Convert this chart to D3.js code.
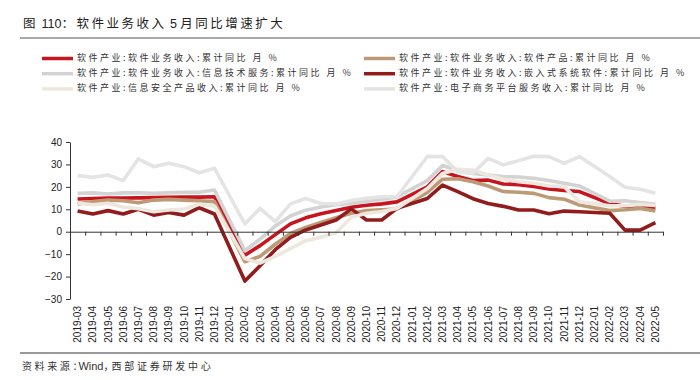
<!DOCTYPE html>
<html>
<head>
<meta charset="utf-8">
<script src="https://cdn.jsdelivr.net/npm/d3@7"></script>
<style>
  body { margin: 0; background: #fff; }
  svg { display: block; }
</style>
</head>
<body>
<div id="chart"></div>
<script>
// 月份（2020-01、2021-01、2022-01 无数据）
const months = [
  "2019-03","2019-04","2019-05","2019-06","2019-07","2019-08","2019-09","2019-10","2019-11","2019-12",
  "2020-01","2020-02","2020-03","2020-04","2020-05","2020-06","2020-07","2020-08","2020-09","2020-10","2020-11","2020-12",
  "2021-01","2021-02","2021-03","2021-04","2021-05","2021-06","2021-07","2021-08","2021-09","2021-10","2021-11","2021-12",
  "2022-01","2022-02","2022-03","2022-04","2022-05"
];

const softwareRevenue = [
  14.6,14.8,15.0,15.0,15.1,15.2,15.3,15.4,15.4,15.6,
  null,-10.5,-6.2,-1.3,3.5,6.2,8.0,9.5,10.9,11.8,12.4,13.3,
  null,20.0,26.8,24.6,22.8,23.0,21.3,21.0,20.2,19.1,18.4,17.9,
  null,12.6,11.3,11.0,10.5
];
const softwareProducts = [
  12.4,13.4,14.1,13.8,12.9,14.1,14.4,14.1,13.8,13.4,
  null,-13.4,-11.0,-5.6,-0.8,1.9,4.1,6.2,8.2,9.4,9.8,10.1,
  null,17.5,23.4,23.6,22.3,20.4,17.9,17.6,17.1,15.2,14.5,11.9,
  null,9.4,9.8,10.4,9.3
];
const itServices = [
  17.1,17.3,16.8,17.3,17.4,17.1,17.3,17.6,17.6,18.6,
  null,-8.5,-3.3,2.5,7.0,9.6,11.0,12.0,12.7,13.5,14.5,15.5,
  null,22.8,29.5,27.3,26.0,25.3,24.6,24.4,23.8,22.8,21.6,20.4,
  null,13.6,13.8,13.0,12.2
];
const embeddedSoftware = [
  9.2,7.9,9.4,7.9,10.0,7.4,8.6,7.4,10.7,7.9,
  null,-22.0,-15.2,-8.0,-2.5,0.8,3.0,5.2,10.2,5.2,5.2,10.4,
  null,14.8,20.8,17.9,14.7,12.6,11.3,9.7,9.7,8.0,9.2,8.9,
  null,8.2,0.7,0.7,4.0
];
const infoSecurity = [
  12.8,12.0,12.7,11.0,10.2,8.9,9.7,10.1,12.2,11.5,
  null,-12.0,-14.0,-11.0,-7.5,-4.0,-2.5,-0.5,6.5,8.2,9.0,10.4,
  null,19.3,26.0,27.8,27.5,25.3,23.4,22.3,21.6,20.4,20.1,13.4,
  null,11.6,11.6,12.2,11.7
];
const ecommerce = [
  25.0,24.3,25.3,22.8,32.5,29.0,30.5,29.0,26.3,28.3,
  null,3.5,10.4,4.5,12.4,14.8,12.6,12.4,13.9,14.9,15.6,15.6,
  null,33.5,33.5,26.8,26.0,32.7,29.8,31.7,33.6,33.5,30.5,33.5,
  null,24.6,19.8,18.9,17.1
];

const seriesNames = [
  "软件产业:软件业务收入:累计同比 月 %",
  "软件产业:软件业务收入:软件产品:累计同比 月 %",
  "软件产业:软件业务收入:信息技术服务:累计同比 月 %",
  "软件产业:软件业务收入:嵌入式系统软件:累计同比 月 %",
  "软件产业:信息安全产品收入:累计同比 月 %",
  "软件产业:电子商务平台服务收入:累计同比 月 %"
];
const seriesValues = [softwareRevenue, softwareProducts, itServices, embeddedSoftware, infoSecurity, ecommerce];
const colors = ["#c8141f", "#bd9a76", "#d3d3d3", "#921c1c", "#eee7de", "#e4e4e4"];

const yTicks = [-30, -20, -10, 0, 10, 20, 30, 40];

const W = 700, H = 380;
const cjk = "'Noto Sans CJK SC', sans-serif";
const latin = "'Liberation Sans', Arial, sans-serif";

const svg = d3.select("#chart").append("svg")
  .attr("width", W)
  .attr("height", H);

// 分段文本：中文字距较大，数字/英文不加字距
function spacedText(sel, parts) {
  parts.forEach(p => {
    sel.append("tspan")
      .style("letter-spacing", (p.ls || 0) + "px")
      .style("font-family", p.latin ? latin : cjk)
      .style("font-size", p.size ? p.size + "px" : null)
      .text(p.t);
  });
}

// 标题
const title = svg.append("text")
  .attr("x", 23)
  .attr("y", 28)
  .style("font-size", "12.5px")
  .style("fill", "#222")
  .style("white-space", "pre");
spacedText(title, [
  { t: "图", ls: 2.5 },
  { t: " 110", latin: true },
  { t: "：软件业务收入", ls: 2.5 },
  { t: " 5 ", latin: true },
  { t: "月同比增速扩大", ls: 2.5 }
]);

svg.append("line")
  .attr("x1", 20).attr("x2", W)
  .attr("y1", 38).attr("y2", 38)
  .style("stroke", "#8c8c8c")
  .style("stroke-width", 1.5);

// 图例
const legend = svg.append("g");
seriesNames.forEach((name, i) => {
  const col = i % 2, row = Math.floor(i / 2);
  const g = legend.append("g")
    .attr("transform", `translate(${col === 0 ? 42 : 364},${58.5 + row * 15.2})`);
  g.append("line")
    .attr("x1", 0).attr("x2", 31)
    .style("stroke", colors[i])
    .style("stroke-width", 3.5);
  g.append("text")
    .attr("x", 35)
    .attr("y", 0)
    .attr("dominant-baseline", "middle")
    .style("font-family", cjk)
    .style("font-size", "9px")
    .style("letter-spacing", "2.5px")
    .style("fill", "#333")
    .style("white-space", "pre")
    .text(name);
});

// 比例尺
const x = d3.scaleBand().domain(months).range([70, 663]);
const xBound = d3.scaleLinear().domain([0, months.length]).range([70, 663]);
const y = d3.scaleLinear().domain([-30, 40]).range([299, 142]);

// 折线
const line = d3.line()
  .x(d => x(d.m) + x.bandwidth() / 2)
  .y(d => y(d.v));

seriesValues.forEach((vals, i) => {
  const pts = months.map((m, j) => ({ m, v: vals[j] })).filter(d => d.v !== null);
  svg.append("path")
    .datum(pts)
    .attr("d", line)
    .style("fill", "none")
    .style("stroke", colors[i])
    .style("stroke-width", 3.6)
    .style("stroke-linejoin", "round");
});

// Y轴
const yAxis = svg.append("g")
  .attr("transform", "translate(70,0)")
  .call(d3.axisLeft(y).tickValues(yTicks).tickSize(4).tickSizeOuter(0).tickPadding(4));
yAxis.selectAll("path, line").style("stroke", "#333");
yAxis.selectAll("text")
  .style("font-family", latin)
  .style("font-size", "10px")
  .style("fill", "#222");

// 零轴
const zeroAxis = svg.append("g")
  .attr("transform", `translate(0,${y(0)})`)
  .call(d3.axisBottom(xBound).tickValues(d3.range(1, months.length + 1)).tickSize(4).tickSizeOuter(0).tickFormat(""));
zeroAxis.selectAll("path, line").style("stroke", "#333");

// X轴标签
const xAxis = svg.append("g")
  .attr("transform", "translate(0,299)")
  .call(d3.axisBottom(x).tickSize(0));
xAxis.select(".domain").remove();
xAxis.selectAll("text")
  .attr("transform", "rotate(-90)")
  .attr("x", -7)
  .attr("y", 0)
  .attr("dy", "0.35em")
  .attr("text-anchor", "end")
  .style("font-family", latin)
  .style("font-size", "10px")
  .style("fill", "#222");

// 底部来源
svg.append("line")
  .attr("x1", 20).attr("x2", W)
  .attr("y1", 353).attr("y2", 353)
  .style("stroke", "#999")
  .style("stroke-width", 2);

const source = svg.append("text")
  .attr("x", 22)
  .attr("y", 370)
  .style("font-size", "10px")
  .style("fill", "#333")
  .style("white-space", "pre");
spacedText(source, [
  { t: "资料来源", ls: 2.6 },
  { t: "：", ls: -4 },
  { t: "Wind", latin: true, size: 11 },
  { t: "，", ls: -2 },
  { t: "西部证券研发中心", ls: 2.75 }
]);
</script>
</body>
</html>
